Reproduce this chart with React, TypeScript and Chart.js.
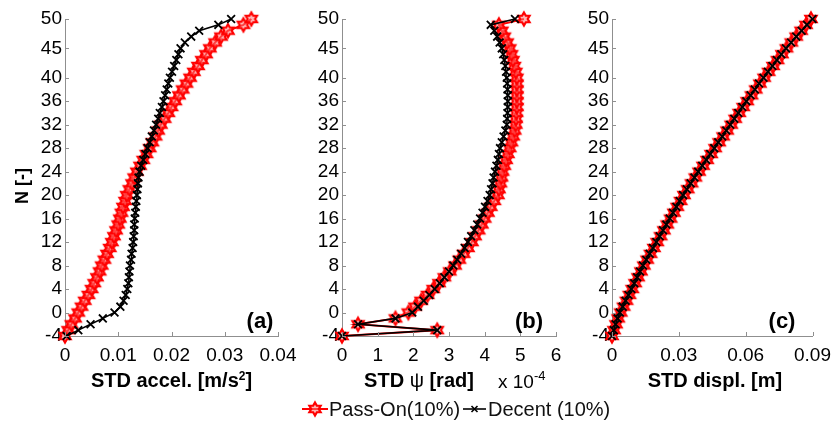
import React, { useEffect, useRef } from "react";
import { Chart, registerables } from "chart.js";

Chart.register(...registerables);

// ---------------- data ----------------
const levels = [-4, -3, -2, -1, 0, 1, 2, 3, 4, 5, 6, 7, 8, 9, 10, 11, 12, 13, 14, 15, 16, 17, 18, 19, 20, 21, 22, 23, 24, 25, 26, 27, 28, 29, 30, 31, 32, 33, 34, 35, 36, 37, 38, 39, 40, 41, 42, 43, 44, 45, 46, 47, 48, 49, 50];
const yTicks = [-4, 0, 4, 8, 12, 16, 20, 24, 28, 32, 36, 40, 45, 50];

const accelTicks = [0, 0.01, 0.02, 0.03, 0.04];
const psiTicks = [0, 1, 2, 3, 4, 5, 6];
const displTicks = [0, 0.03, 0.06, 0.09];

// STD acceleration [m/s^2]
const accelPassOn = [0.0000, 0.0006, 0.0012, 0.0019, 0.0025, 0.0031, 0.0037, 0.0044, 0.0050, 0.0055, 0.0060, 0.0065, 0.0069, 0.0074, 0.0079, 0.0084, 0.0088, 0.0092, 0.0096, 0.0100, 0.0103, 0.0106, 0.0109, 0.0113, 0.0116, 0.0121, 0.0126, 0.0130, 0.0135, 0.0141, 0.0147, 0.0153, 0.0159, 0.0164, 0.0170, 0.0175, 0.0180, 0.0187, 0.0194, 0.0200, 0.0207, 0.0214, 0.0221, 0.0228, 0.0235, 0.0242, 0.0250, 0.0257, 0.0265, 0.0272, 0.0282, 0.0293, 0.0306, 0.0335, 0.0350];
const accelDecent = [0.0003, 0.0025, 0.0048, 0.0071, 0.0093, 0.0104, 0.0110, 0.0114, 0.0117, 0.0119, 0.0120, 0.0121, 0.0122, 0.0124, 0.0125, 0.0127, 0.0128, 0.0129, 0.0130, 0.0130, 0.0131, 0.0132, 0.0133, 0.0134, 0.0135, 0.0136, 0.0137, 0.0138, 0.0140, 0.0143, 0.0147, 0.0151, 0.0155, 0.0159, 0.0163, 0.0167, 0.0171, 0.0175, 0.0178, 0.0182, 0.0185, 0.0188, 0.0191, 0.0194, 0.0197, 0.0201, 0.0205, 0.0209, 0.0213, 0.0217, 0.0225, 0.0237, 0.0252, 0.0288, 0.0312];

// STD psi [rad] x 1e-4
const psiPassOn = [0, 2.67, 0.45, 1.5, 1.86, 2.05, 2.22, 2.40, 2.56, 2.72, 2.87, 3.02, 3.17, 3.29, 3.41, 3.53, 3.64, 3.73, 3.83, 3.92, 4.00, 4.09, 4.17, 4.27, 4.37, 4.40, 4.44, 4.47, 4.50, 4.55, 4.60, 4.65, 4.70, 4.75, 4.80, 4.84, 4.87, 4.88, 4.89, 4.90, 4.90, 4.90, 4.90, 4.90, 4.90, 4.87, 4.83, 4.79, 4.75, 4.70, 4.63, 4.55, 4.48, 4.40, 5.10];
const psiDecent = [0, 2.67, 0.45, 1.5, 1.97, 2.13, 2.29, 2.45, 2.60, 2.74, 2.87, 3.00, 3.12, 3.23, 3.34, 3.44, 3.53, 3.62, 3.71, 3.79, 3.87, 3.94, 4.01, 4.08, 4.14, 4.18, 4.22, 4.25, 4.29, 4.33, 4.37, 4.40, 4.43, 4.48, 4.53, 4.58, 4.62, 4.63, 4.64, 4.65, 4.65, 4.65, 4.64, 4.63, 4.62, 4.60, 4.58, 4.55, 4.52, 4.48, 4.42, 4.35, 4.27, 4.17, 4.85];

// STD displacement [m]
const displPassOn = [0.0000, 0.0009, 0.0018, 0.0028, 0.0039, 0.0052, 0.0065, 0.0078, 0.0091, 0.0104, 0.0117, 0.0130, 0.0143, 0.0158, 0.0173, 0.0188, 0.0203, 0.0218, 0.0233, 0.0248, 0.0263, 0.0278, 0.0293, 0.0308, 0.0323, 0.0340, 0.0357, 0.0374, 0.0391, 0.0409, 0.0427, 0.0445, 0.0463, 0.0481, 0.0499, 0.0517, 0.0535, 0.0553, 0.0571, 0.0589, 0.0607, 0.0626, 0.0645, 0.0664, 0.0683, 0.0703, 0.0723, 0.0743, 0.0763, 0.0783, 0.0805, 0.0827, 0.0849, 0.0871, 0.0893];
const displDecent = [0.0000, 0.0008, 0.0016, 0.0025, 0.0035, 0.0048, 0.0061, 0.0074, 0.0087, 0.0100, 0.0113, 0.0126, 0.0139, 0.0154, 0.0169, 0.0184, 0.0199, 0.0214, 0.0229, 0.0244, 0.0259, 0.0274, 0.0289, 0.0304, 0.0319, 0.0336, 0.0353, 0.0370, 0.0387, 0.0405, 0.0423, 0.0441, 0.0459, 0.0477, 0.0495, 0.0513, 0.0531, 0.0549, 0.0567, 0.0585, 0.0603, 0.0622, 0.0641, 0.0660, 0.0680, 0.0700, 0.0720, 0.0740, 0.0760, 0.0781, 0.0804, 0.0827, 0.0851, 0.0875, 0.0900];

const seriesNames = ["Pass-On(10%)", "Decent (10%)"];

// ---------------- style ----------------
const FONT = "'Liberation Sans', Arial, Helvetica, sans-serif";
const AX = "#8f8f8f";
const RED = "#ff0000";
const YW = 50;
const XH = 40;
const TOP = 19;
const BOTTOM = 336;
const W = 839;
const H = 430;
const LEGEND_Y = 409;

function makeHexagram(radius: number, color: string, lw: number): HTMLCanvasElement {
  const pad = lw + 1;
  const size = Math.ceil(2 * (radius + pad));
  const c = document.createElement("canvas");
  c.width = size;
  c.height = size;
  const ctx = c.getContext("2d")!;
  const cx = size / 2;
  const cy = size / 2;
  const r2 = radius / Math.sqrt(3);
  ctx.beginPath();
  for (let i = 0; i < 12; i++) {
    const ang = -Math.PI / 2 + (i * Math.PI) / 6;
    const r = i % 2 === 0 ? radius : r2;
    const x = cx + r * Math.cos(ang);
    const y = cy + r * Math.sin(ang);
    if (i === 0) ctx.moveTo(x, y);
    else ctx.lineTo(x, y);
  }
  ctx.closePath();
  ctx.fillStyle = "rgba(255,120,120,0.55)";
  ctx.fill();
  ctx.strokeStyle = color;
  ctx.lineWidth = lw;
  ctx.stroke();
  return c;
}

type Seg = { t: string; f: string; dy?: number };

function drawSegs(ctx: CanvasRenderingContext2D, segs: Seg[], x: number, y: number, align: "center" | "left") {
  let total = 0;
  for (const s of segs) {
    ctx.font = s.f;
    total += ctx.measureText(s.t).width;
  }
  let cx = align === "center" ? x - total / 2 : x;
  ctx.textAlign = "left";
  ctx.textBaseline = "alphabetic";
  for (const s of segs) {
    ctx.font = s.f;
    ctx.fillText(s.t, cx, y + (s.dy || 0));
    cx += ctx.measureText(s.t).width;
  }
}

function drawCross(ctx: CanvasRenderingContext2D, x: number, y: number, r: number) {
  ctx.beginPath();
  ctx.moveTo(x - r, y - r);
  ctx.lineTo(x + r, y + r);
  ctx.moveTo(x - r, y + r);
  ctx.lineTo(x + r, y - r);
  ctx.stroke();
}

type Panel = {
  key: string;
  left: number;
  right: number;
  xMax: number;
  xTicks: number[];
  pass: number[];
  dec: number[];
  fmt: (v: number) => string;
  title: Seg[];
  titleX: number;
  letter: string;
  letterX: number;
};

const panels: Panel[] = [
  {
    key: "a", left: 65, right: 278, xMax: 0.04, xTicks: accelTicks, pass: accelPassOn, dec: accelDecent,
    fmt: (v) => (v === 0 ? "0" : v.toFixed(2)),
    title: [
      { t: "STD accel. [m/s", f: `bold 20px ${FONT}` },
      { t: "2", f: `bold 12px ${FONT}`, dy: -7 },
      { t: "]", f: `bold 20px ${FONT}` },
    ],
    titleX: 171.5, letter: "(a)", letterX: 260,
  },
  {
    key: "b", left: 342, right: 556, xMax: 6, xTicks: psiTicks, pass: psiPassOn, dec: psiDecent,
    fmt: (v) => String(v),
    title: [
      { t: "STD ", f: `bold 20px ${FONT}` },
      { t: "ψ", f: `20px ${FONT}` },
      { t: " [rad]", f: `bold 20px ${FONT}` },
    ],
    titleX: 419, letter: "(b)", letterX: 529,
  },
  {
    key: "c", left: 612, right: 818, xMax: 0.09, xTicks: displTicks, pass: displPassOn, dec: displDecent,
    fmt: (v) => (v === 0 ? "0" : v.toFixed(2)),
    title: [{ t: "STD displ. [m]", f: `bold 20px ${FONT}` }],
    titleX: 715, letter: "(c)", letterX: 782,
  },
];

function makeConfig(p: Panel, star: HTMLCanvasElement): any {
  const decor = {
    id: "decor" + p.key,
    afterDraw(chart: any) {
      const ctx: CanvasRenderingContext2D = chart.ctx;
      const ca = chart.chartArea;
      const xs = chart.scales.x;
      const ys = chart.scales.y;
      ctx.save();
      // inward tick marks
      ctx.strokeStyle = AX;
      ctx.lineWidth = 1;
      ctx.beginPath();
      for (const v of p.xTicks) {
        const px = Math.round(xs.getPixelForValue(v)) + 0.5;
        ctx.moveTo(px, ca.bottom);
        ctx.lineTo(px, ca.bottom - 4);
      }
      for (const v of yTicks) {
        const py = Math.round(ys.getPixelForValue(v)) + 0.5;
        ctx.moveTo(ca.left, py);
        ctx.lineTo(ca.left + 4, py);
      }
      ctx.stroke();

      ctx.fillStyle = "#000";
      drawSegs(ctx, p.title, p.titleX, 387, "center");
      drawSegs(ctx, [{ t: p.letter, f: `bold 22px ${FONT}` }], p.letterX, 328, "center");

      if (p.key === "a") {
        ctx.save();
        ctx.translate(23, 186);
        ctx.rotate(-Math.PI / 2);
        ctx.font = `bold 18px ${FONT}`;
        ctx.textAlign = "center";
        ctx.textBaseline = "middle";
        ctx.fillText("N [-]", 0, 0);
        ctx.restore();
      }
      if (p.key === "b") {
        drawSegs(ctx, [
          { t: "x 10", f: `19px ${FONT}` },
          { t: "-4", f: `13px ${FONT}`, dy: -8 },
        ], 498, 388, "left");

        // legend
        const ly = LEGEND_Y;
        ctx.strokeStyle = RED;
        ctx.lineWidth = 2;
        ctx.beginPath();
        ctx.moveTo(302, ly);
        ctx.lineTo(328, ly);
        ctx.stroke();
        ctx.drawImage(star, 315 - star.width / 2, ly - star.height / 2);
        ctx.fillStyle = "#111";
        drawSegs(ctx, [{ t: seriesNames[0], f: `20px ${FONT}` }], 329, ly + 7, "left");

        ctx.strokeStyle = "#000";
        ctx.lineWidth = 1.6;
        ctx.beginPath();
        ctx.moveTo(463, ly);
        ctx.lineTo(486, ly);
        ctx.stroke();
        drawCross(ctx, 474.5, ly, 3);
        drawSegs(ctx, [{ t: seriesNames[1], f: `20px ${FONT}` }], 488, ly + 7, "left");
      }
      ctx.restore();
    },
  };

  return {
    type: "scatter",
    data: {
      datasets: [
        {
          label: seriesNames[1],
          data: levels.map((n, j) => ({ x: p.dec[j], y: n })),
          showLine: true,
          borderColor: "#000",
          borderWidth: 1.6,
          pointStyle: "crossRot",
          pointRadius: 5.5,
          pointBorderWidth: 1.8,
          pointBorderColor: "#000",
          pointBackgroundColor: "#000",
          clip: false,
        },
        {
          label: seriesNames[0],
          data: levels.map((n, j) => ({ x: p.pass[j], y: n })),
          showLine: true,
          borderColor: RED,
          borderWidth: 2,
          pointStyle: star,
          pointRadius: 7,
          pointBorderColor: RED,
          pointBackgroundColor: RED,
          clip: false,
        },
      ],
    },
    options: {
      animation: false,
      responsive: false,
      events: [],
      layout: { padding: { left: p.left - YW, right: W - p.right, top: TOP, bottom: H - BOTTOM - XH } },
      plugins: { legend: { display: false }, tooltip: { enabled: false }, title: { display: false } },
      scales: {
        x: {
          type: "linear",
          min: 0,
          max: p.xMax,
          afterBuildTicks: (s: any) => { s.ticks = p.xTicks.map((v) => ({ value: v })); },
          afterFit: (s: any) => { s.height = XH; },
          grid: { display: false, drawTicks: false },
          border: { display: true, color: AX, width: 1 },
          ticks: {
            color: "#000",
            font: { family: FONT, size: 19 },
            padding: 8,
            maxRotation: 0,
            autoSkip: false,
            callback: (v: any) => p.fmt(Number(v)),
          },
        },
        y: {
          type: "linear",
          min: -4,
          max: 50,
          afterBuildTicks: (s: any) => { s.ticks = yTicks.map((v) => ({ value: v })); },
          afterFit: (s: any) => { s.width = YW; },
          grid: { display: false, drawTicks: false },
          border: { display: true, color: AX, width: 1 },
          ticks: {
            color: "#000",
            font: { family: FONT, size: 19 },
            padding: 3,
            autoSkip: false,
            callback: (v: any) => String(v),
          },
        },
      },
    },
    plugins: [decor],
  };
}

export default function App() {
  const r0 = useRef<HTMLCanvasElement>(null);
  const r1 = useRef<HTMLCanvasElement>(null);
  const r2 = useRef<HTMLCanvasElement>(null);

  useEffect(() => {
    const star = makeHexagram(6.5, RED, 2.2);
    const refs = [r0, r1, r2];
    const charts = panels.map((p, i) => new Chart(refs[i].current as HTMLCanvasElement, makeConfig(p, star)));
    return () => charts.forEach((c) => c.destroy());
  }, []);

  const cs: React.CSSProperties = { position: "absolute", left: 0, top: 0, width: W, height: H };
  return (
    <div style={{ position: "fixed", left: 0, top: 0, width: W, height: H, background: "#fff" }}>
      <canvas ref={r0} width={W} height={H} style={cs} />
      <canvas ref={r1} width={W} height={H} style={cs} />
      <canvas ref={r2} width={W} height={H} style={cs} />
    </div>
  );
}
